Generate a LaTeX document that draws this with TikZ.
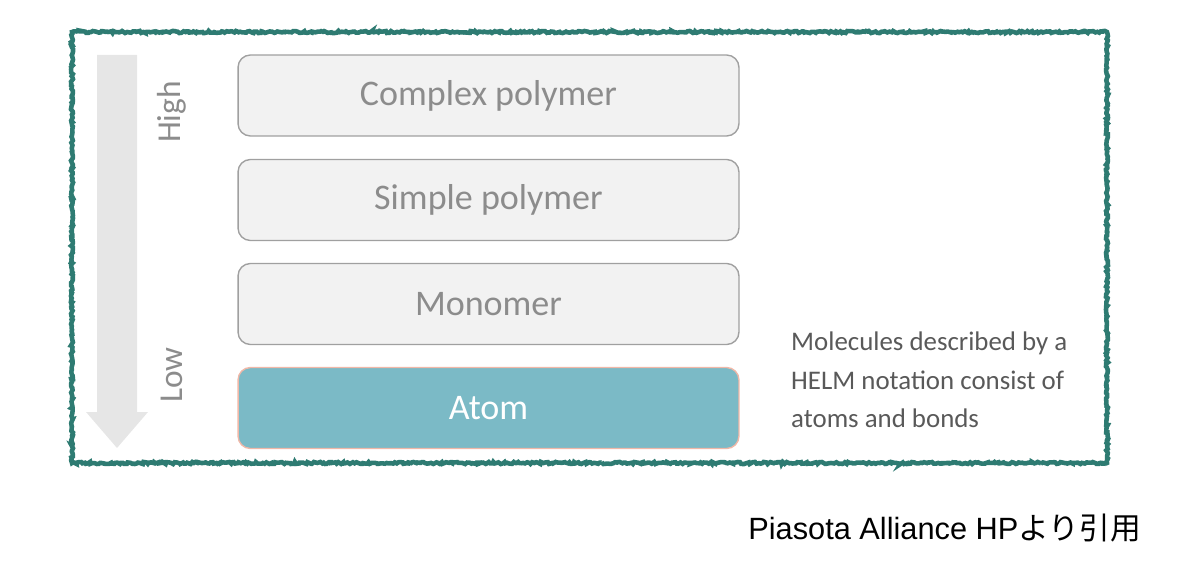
\documentclass[tikz,border=0pt]{standalone}
\usepackage{fontspec}
\setmainfont{Carlito}
\newfontfamily\arialfont{Liberation Sans}
\newfontfamily\jpfont{Noto Sans CJK JP}
\usetikzlibrary{decorations.pathmorphing}

\definecolor{frameteal}{HTML}{2E7B72}
\definecolor{arrowgray}{HTML}{E6E6E6}
\definecolor{levelgray}{HTML}{8C8C8C}
\definecolor{levelfill}{HTML}{F2F2F2}
\definecolor{leveldraw}{HTML}{A0A0A0}
\definecolor{atomfill}{HTML}{7BBAC6}
\definecolor{atomdraw}{HTML}{F0B8A8}
\definecolor{notegray}{HTML}{595959}

\tikzset{
  level/.style={draw=leveldraw, fill=levelfill, line width=0.8pt, rounded corners=7pt,
    minimum width=10.02cm, minimum height=1.62cm, text=levelgray,
    font=\fontsize{20.5}{24}\selectfont},
  axislabel/.style={text=levelgray, rotate=90, font=\fontsize{19}{22}\selectfont}
}

\begin{document}
\begin{tikzpicture}[x=0.02cm,y=-0.02cm]
\useasboundingbox (0,0) rectangle (1200,571);
% Draw rough frame
\draw[frameteal, line width=2.6pt, decorate,
  decoration={random steps, segment length=1pt, amplitude=0.6pt}]
  (72,32) rectangle (1107,463);
% Draw level arrow
\fill[arrowgray] (97,55) -- (137,55) -- (137,412) -- (148,412) -- (117,448)
  -- (86,412) -- (97,412) -- cycle;
\node[axislabel] (high) at (172,112) {High};
\node[axislabel] (low) at (172,375) {Low};
% Draw levels
\node[level] (complex) at (488.5,95.5) {Complex polymer};
\node[level] (simple) at (488.5,200) {Simple polymer};
\node[level] (monomer) at (488.5,304) {Monomer};
\node[level, draw=atomdraw, fill=atomfill, text=white] (atom) at (488.5,408) {Atom};
% Note beside atom
\node[anchor=west, align=left, text=notegray, font=\fontsize{15.3}{22}\selectfont]
  (note) at (785,380) {Molecules described by a\\HELM notation consist of\\atoms and bonds};
% Source
\node[anchor=east, font=\fontsize{17.5}{20}\selectfont] (source) at (1147,528)
  {\arialfont Piasota Alliance HP\jpfont より引用};
\end{tikzpicture}
\end{document}
